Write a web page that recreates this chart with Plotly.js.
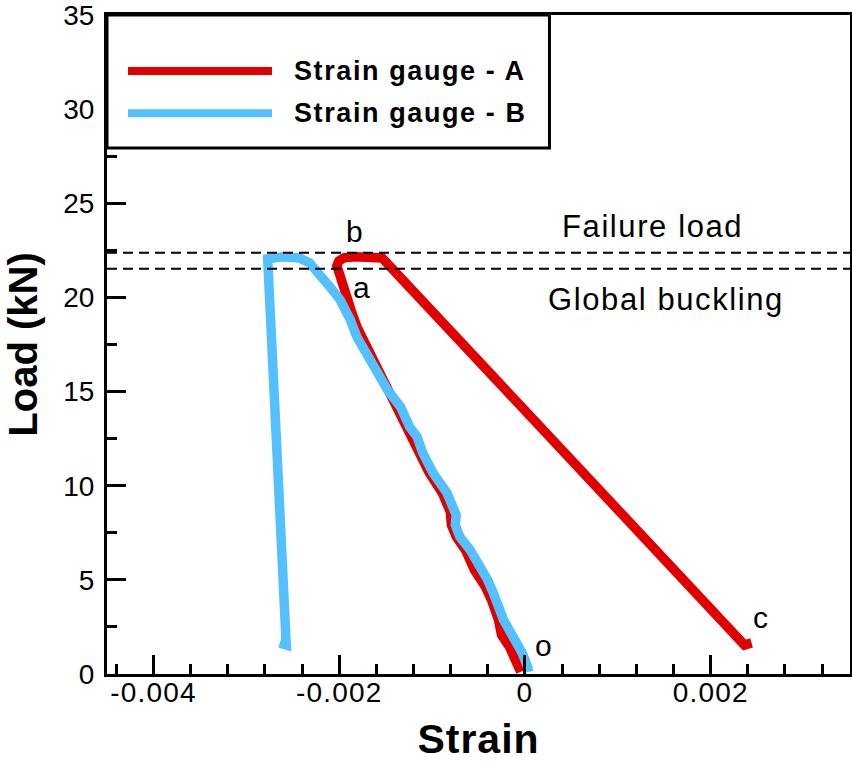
<!DOCTYPE html>
<html>
<head>
<meta charset="utf-8">
<script src="https://cdn.plot.ly/plotly-3.0.1.min.js"></script>
<style>
html,body{margin:0;padding:0;background:#fff;}
text.annotation-text{letter-spacing:1.6px;}
.xtick text{letter-spacing:1.2px;}
text.xtitle{letter-spacing:1px;}
</style>
</head>
<body>
<div id="chart" style="width:852px;height:765px;"></div>
<script>
// Strain gauge A (red)
var strainA = [-0.000046, -0.000090, -0.000165, -0.000252, -0.000284, -0.000360, -0.000425, -0.000544, -0.000641, -0.000738, -0.000792, -0.000803, -0.000890, -0.001030, -0.001138, -0.001214, -0.001279, -0.001376, -0.001441, -0.001495, -0.001582, -0.001668, -0.001744, -0.001809, -0.001863, -0.001906, -0.001939, -0.002003, -0.002025, -0.002003, -0.001949, -0.001830, -0.001646, -0.001538, 0.002364, 0.002440];
var loadA   = [0.11, 0.74, 1.43, 2.07, 2.87, 3.93, 4.62, 5.53, 6.59, 7.28, 7.92, 8.61, 9.62, 10.68, 11.74, 12.59, 13.12, 14.03, 14.72, 15.20, 16.05, 16.90, 17.75, 18.44, 19.18, 19.87, 20.56, 21.31, 21.68, 21.94, 22.10, 22.16, 22.16, 22.10, 1.54, 1.65];
// Strain gauge B (blue)
var strainB = [0.00004, 0.00003, -0.00003, -0.00012, -0.00023, -0.00034, -0.00040, -0.00059, -0.00070, -0.00075, -0.00074, -0.00084, -0.00099, -0.00110, -0.00116, -0.00124, -0.00134, -0.00148, -0.00159, -0.00170, -0.00181, -0.00188, -0.00199, -0.00210, -0.00221, -0.00232, -0.00243, -0.00261, -0.00277, -0.00257, -0.00264];
var loadB   = [0.11, 0.37, 1.12, 1.81, 2.87, 4.30, 4.99, 6.59, 7.28, 7.92, 8.45, 9.62, 10.68, 11.74, 12.59, 13.12, 14.19, 15.09, 15.99, 16.84, 17.91, 18.81, 19.87, 20.56, 21.20, 21.84, 22.10, 22.16, 22.05, 1.54, 1.65];
var seriesNames = ['Strain gauge - A', 'Strain gauge - B'];
// reference loads: failure load, global buckling
var refLoads = [22.37, 21.52];
var refLabels = ['Failure load', 'Global buckling'];
var refLabelX = [0.00137, 0.00152];
var refLabelY = [23.75, 19.87];
// point labels
var pointLabels = ['b', 'a', 'o', 'c'];
var pointX = [-0.00183, -0.001755, 0.000202, 0.002548];
var pointY = [23.49, 20.51, 1.49, 2.98];
// ticks
var xTickVals = [-0.004, -0.002, 0, 0.002];
var xTickText = ['-0.004', '-0.002', '0', '0.002'];
var yTickVals = [0, 5, 10, 15, 20, 25, 30, 35];

var RED = 'rgb(224,0,0)';
var BLUE = 'rgb(85,192,255)';
var colors = [RED, BLUE];
var FONT = 'Liberation Sans, Arial, Helvetica, sans-serif';

var traces = [
  {x: strainA, y: loadA, mode: 'lines', name: seriesNames[0], line: {color: RED, width: 9.5}},
  {x: strainB, y: loadB, mode: 'lines', name: seriesNames[1], line: {color: BLUE, width: 9.5}}
];

var shapes = [];
var annotations = [];
refLoads.forEach(function (v) {
  shapes.push({type: 'line', xref: 'paper', yref: 'y', x0: 0, x1: 1, y0: v, y1: v,
    line: {color: 'black', width: 2, dash: '10px,6px'}, layer: 'above'});
});
refLabels.forEach(function (t, i) {
  annotations.push({x: refLabelX[i], y: refLabelY[i], xref: 'x', yref: 'y', text: t,
    showarrow: false, font: {family: FONT, size: 31, color: 'black'}});
});
pointLabels.forEach(function (t, i) {
  annotations.push({x: pointX[i], y: pointY[i], xref: 'x', yref: 'y', text: t,
    showarrow: false, font: {family: FONT, size: 30, color: 'black'}});
});
// legend box
shapes.push({type: 'rect', xref: 'paper', yref: 'paper', x0: 0, x1: 0.5955, y0: 0.798, y1: 1,
  line: {color: 'black', width: 3}, fillcolor: 'white', layer: 'above'});
var legY = [0.915, 0.851];
seriesNames.forEach(function (n, i) {
  shapes.push({type: 'line', xref: 'paper', yref: 'paper', x0: 0.0283, x1: 0.2221, y0: legY[i], y1: legY[i],
    line: {color: colors[i], width: 8}, layer: 'above'});
  annotations.push({xref: 'paper', yref: 'paper', x: 0.249, y: legY[i], xanchor: 'left', yanchor: 'middle',
    text: '<b>' + n + '</b>', showarrow: false, font: {family: FONT, size: 27, color: 'black'}});
});

var layout = {
  width: 852, height: 765,
  margin: {l: 107, r: 2, t: 15, b: 91},
  paper_bgcolor: 'white', plot_bgcolor: 'white',
  showlegend: false,
  font: {family: FONT, color: 'black'},
  xaxis: {
    range: [-0.0045, 0.0035], tickmode: 'array', tickvals: xTickVals, ticktext: xTickText,
    showgrid: false, zeroline: false, showline: true, mirror: true, linecolor: 'black', linewidth: 3,
    ticks: 'inside', ticklen: 19, tickwidth: 3, tickcolor: 'black',
    tickfont: {family: FONT, size: 28, color: 'black'}, ticklabelstandoff: -9, ticklabeloverflow: 'allow',
    minor: {tickmode: 'linear', tick0: 0, dtick: 0.0004, ticks: 'inside', ticklen: 10, tickwidth: 3, tickcolor: 'black', showgrid: false},
    title: {text: '<b>Strain</b>', font: {family: FONT, size: 41, color: 'black'}, standoff: 18},
    automargin: false
  },
  yaxis: {
    range: [0, 35], tickmode: 'array', tickvals: yTickVals,
    showgrid: false, zeroline: false, showline: true, mirror: true, linecolor: 'black', linewidth: 3,
    ticks: 'inside', ticklen: 19, tickwidth: 3, tickcolor: 'black',
    tickfont: {family: FONT, size: 28, color: 'black'}, ticklabelstandoff: 4, ticklabeloverflow: 'allow',
    minor: {tickmode: 'linear', tick0: 0, dtick: 2.5, ticks: 'inside', ticklen: 10, tickwidth: 3, tickcolor: 'black', showgrid: false},
    title: {text: '<b>Load (kN)</b>', font: {family: FONT, size: 40, color: 'black'}, standoff: 14},
    automargin: false
  },
  shapes: shapes,
  annotations: annotations
};

Plotly.newPlot('chart', traces, layout, {displayModeBar: false, staticPlot: true});
</script>
</body>
</html>
